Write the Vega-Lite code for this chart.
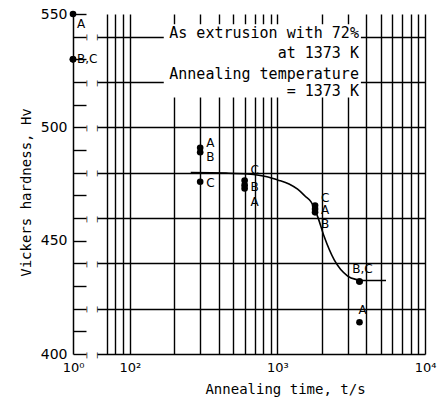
{
  "$schema": "https://vega.github.io/schema/vega-lite/v6.json",
  "background": "white",
  "padding": {"left": 19, "top": 7, "right": 5, "bottom": 5},
  "config": {
    "view": {"stroke": null},
    "font": "DejaVu Sans",
    "axis": {
      "gridColor": "black", "gridWidth": 1.4, "gridOpacity": 1,
      "domainColor": "black", "labelColor": "black", "titleColor": "black",
      "labelFont": "DejaVu Sans", "titleFont": "DejaVu Sans Mono", "titleFontWeight": "normal",
      "labelOverlap": false
    },
    "text": {"font": "DejaVu Sans", "color": "black"}
  },
  "datasets": {
    "points": [
      {"t": 1, "hv": 550, "specimen": "A"},
      {"t": 1, "hv": 530, "specimen": "B"},
      {"t": 1, "hv": 530, "specimen": "C"},
      {"t": 300, "hv": 491, "specimen": "A"},
      {"t": 300, "hv": 489, "specimen": "B"},
      {"t": 300, "hv": 476, "specimen": "C"},
      {"t": 600, "hv": 473, "specimen": "A"},
      {"t": 600, "hv": 474.5, "specimen": "B"},
      {"t": 600, "hv": 476.5, "specimen": "C"},
      {"t": 1800, "hv": 464, "specimen": "A"},
      {"t": 1800, "hv": 462.5, "specimen": "B"},
      {"t": 1800, "hv": 465.5, "specimen": "C"},
      {"t": 3600, "hv": 414, "specimen": "A"},
      {"t": 3600, "hv": 432, "specimen": "B"},
      {"t": 3600, "hv": 432, "specimen": "C"}
    ],
    "curve": [
      {"t": 259, "hv": 480},
      {"t": 450, "hv": 479.8},
      {"t": 630, "hv": 479.4},
      {"t": 850, "hv": 478.2},
      {"t": 1003, "hv": 476.8},
      {"t": 1200, "hv": 475},
      {"t": 1371, "hv": 472.7},
      {"t": 1550, "hv": 469.5},
      {"t": 1687, "hv": 467.2},
      {"t": 1874, "hv": 460.6},
      {"t": 2075, "hv": 451.8},
      {"t": 2427, "hv": 441.5},
      {"t": 2993, "hv": 434.4},
      {"t": 3500, "hv": 432.7},
      {"t": 3650, "hv": 432.4},
      {"t": 5445, "hv": 432.4}
    ],
    "labels": [
      {"t": 1, "hv": 545.8, "text": "A"},
      {"t": 1, "hv": 530, "text": "B,C"},
      {"t": 300, "hv": 493, "text": "A"},
      {"t": 300, "hv": 487, "text": "B"},
      {"t": 300, "hv": 475.3, "text": "C"},
      {"t": 600, "hv": 481.2, "text": "C"},
      {"t": 600, "hv": 473.8, "text": "B"},
      {"t": 600, "hv": 467.2, "text": "A"},
      {"t": 1800, "hv": 469, "text": "C"},
      {"t": 1800, "hv": 463.5, "text": "A"},
      {"t": 1800, "hv": 457.4, "text": "B"},
      {"t": 3600, "hv": 437.5, "text": "B,C"},
      {"t": 3600, "hv": 419.4, "text": "A"}
    ],
    "notes": [
      {"text": "As extrusion with 72%", "hv": 541.6},
      {"text": "at 1373 K", "hv": 532.9},
      {"text": "Annealing temperature", "hv": 523.6},
      {"text": "= 1373 K", "hv": 516}
    ]
  },
  "spacing": 11,
  "bounds": "flush",
  "hconcat": [
    {
      "width": 13,
      "height": 340,
      "encoding": {
        "x": {
          "field": "t", "type": "quantitative",
          "scale": {"domain": [1, 2], "nice": false, "zero": false},
          "axis": {"values": [1], "labelExpr": "'10⁰'", "labelFlush": false, "labelOverlap": false, "grid": false, "domain": false, "ticks": false, "title": null, "labelFontSize": 13, "labelPadding": 7}
        },
        "y": {
          "field": "hv", "type": "quantitative",
          "scale": {"domain": [400, 550], "nice": false, "zero": false},
          "axis": {
            "values": [400, 410, 420, 430, 440, 450, 460, 470, 480, 490, 500, 510, 520, 530, 540, 550],
            "grid": true, "ticks": false, "domain": true, "domainWidth": 1.5,
            "labelExpr": "(datum.value == 400 || datum.value == 450 || datum.value == 500 || datum.value == 550) ? datum.label : ''",
            "labelOverlap": false, "labelFlush": false,
            "labelFontSize": 14, "labelPadding": 6,
            "title": "Vickers hardness, Hv", "titleFontSize": 14,
            "titleX": -47, "titleY": 178, "titleBaseline": "middle", "titleAlign": "center"
          }
        }
      },
      "layer": [
        {
          "data": {"name": "points"},
          "transform": [{"filter": "datum.t < 10"}],
          "mark": {"type": "circle", "size": 44, "opacity": 1, "color": "black"}
        },
        {
          "data": {"name": "labels"},
          "transform": [{"filter": "datum.t < 10"}],
          "mark": {"type": "text", "align": "left", "baseline": "middle", "dx": 4, "fontSize": 12},
          "encoding": {"text": {"field": "text"}}
        }
      ]
    },
    {
      "width": 328,
      "height": 340,
      "layer": [
        {
          "data": {"name": "points"},
          "transform": [{"filter": "datum.t >= 10"}],
          "mark": {"type": "circle", "size": 44, "opacity": 1, "color": "black"},
          "encoding": {
            "x": {
              "field": "t", "type": "quantitative",
              "scale": {"type": "log", "domain": [60, 10000], "nice": false},
              "axis": {
                "values": [70, 80, 90, 100, 200, 300, 400, 500, 600, 700, 800, 900, 1000, 2000, 3000, 4000, 5000, 6000, 7000, 8000, 9000, 10000],
                "labelExpr": "datum.value == 100 ? '10²' : datum.value == 1000 ? '10³' : datum.value == 10000 ? '10⁴' : ''",
                "labelFlush": false, "labelOverlap": false,
                "grid": true, "ticks": false, "domain": false,
                "labelFontSize": 13, "labelPadding": 7,
                "title": "Annealing time, t/s", "titleFontSize": 14,
                "titleX": 188, "titleY": 39, "titleBaseline": "alphabetic", "titleAlign": "center"
              }
            },
            "y": {
              "field": "hv", "type": "quantitative",
              "scale": {"domain": [400, 550], "nice": false, "zero": false},
              "axis": {
                "values": [400, 410, 420, 430, 440, 450, 460, 470, 480, 490, 500, 510, 520, 530, 540, 550],
                "grid": true, "ticks": false, "tickSize": 0, "domain": false,
                "labelExpr": "'|\u00a0\u00a0\u00a0\u00a0|'", "labelAlign": "center", "labelBaseline": "middle", "labelPadding": 5.3,
                "labelOverlap": false, "labelFlush": false,
                "labelFontSize": 6, "labelFontWeight": "bold", "title": null
              }
            }
          }
        },
        {
          "data": {"values": [{}]},
          "mark": {"type": "rect", "fill": "white", "stroke": null},
          "encoding": {
            "x": {"datum": 170},
            "x2": {"datum": 3680},
            "y": {"datum": 545.5},
            "y2": {"datum": 513.2}
          }
        },
        {
          "data": {"name": "notes"},
          "mark": {"type": "text", "align": "right", "baseline": "middle", "fontSize": 15, "font": "DejaVu Sans Mono"},
          "encoding": {
            "x": {"datum": 3568},
            "y": {"field": "hv", "type": "quantitative"},
            "text": {"field": "text"}
          }
        },
        {
          "data": {"name": "curve"},
          "mark": {"type": "line", "color": "black", "strokeWidth": 1.6, "interpolate": "monotone"},
          "encoding": {
            "x": {"field": "t", "type": "quantitative"},
            "y": {"field": "hv", "type": "quantitative"}
          }
        },
        {
          "data": {"name": "labels"},
          "transform": [{"filter": "datum.t >= 10 && datum.t < 3000"}],
          "mark": {"type": "text", "align": "left", "baseline": "middle", "dx": 6, "fontSize": 12},
          "encoding": {
            "x": {"field": "t", "type": "quantitative"},
            "y": {"field": "hv", "type": "quantitative"},
            "text": {"field": "text"}
          }
        },
        {
          "data": {"name": "labels"},
          "transform": [{"filter": "datum.t >= 3000"}],
          "mark": {"type": "text", "align": "center", "baseline": "middle", "dx": 3, "fontSize": 12},
          "encoding": {
            "x": {"field": "t", "type": "quantitative"},
            "y": {"field": "hv", "type": "quantitative"},
            "text": {"field": "text"}
          }
        }
      ]
    }
  ]
}
